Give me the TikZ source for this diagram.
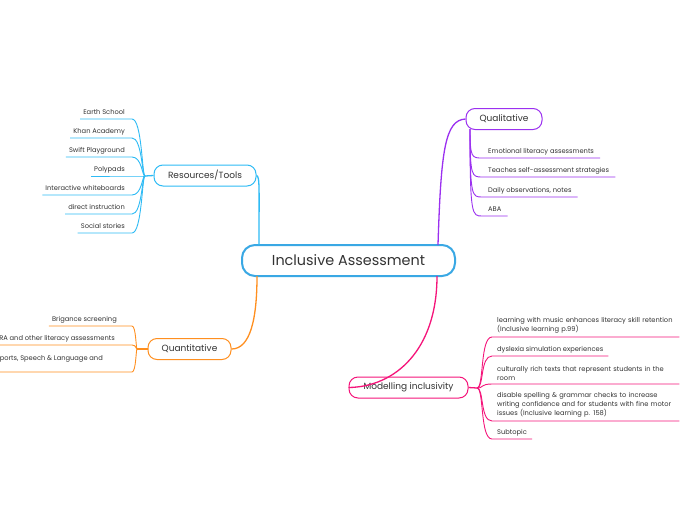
\documentclass[tikz,border=0pt]{standalone}
\usepackage{fontspec}
\setmainfont{Poppins}
\definecolor{cRes}{HTML}{2EBBF5}
\definecolor{cRoot}{HTML}{3AA8E4}
\definecolor{cQuan}{HTML}{FF8F1F}
\definecolor{cQual}{HTML}{9B30F0}
\definecolor{cMod}{HTML}{F5147A}
\definecolor{txt}{HTML}{333333}
\begin{document}
\begin{tikzpicture}[x=1pt,y=-1pt]
\tikzset{
 topic/.style={draw, fill=white, rounded corners=9pt, line width=1pt, minimum height=21pt, inner sep=0pt, font=\fontsize{9}{11}\selectfont, text=txt},
 leaf/.style={inner xsep=3pt, inner ysep=3pt, font=\fontsize{6.7}{9}\selectfont, text=txt, text height=5pt, text depth=1.5pt},
 mleaf/.style={inner xsep=5pt, inner ysep=3pt, font=\fontsize{6.7}{9}\selectfont, text=txt, align=left},
 branch/.style={line width=1.3pt},
 twig/.style={line width=0.9pt},
}
\useasboundingbox (0,0) rectangle (697,520);
\clip (0,0) rectangle (697,520);
\fill[white] (0,0) rectangle (697,520);

% root
\node[draw=cRoot, line width=2pt, rounded corners=13pt, minimum width=213pt, minimum height=31pt, inner sep=0pt, font=\fontsize{14.4}{16}\selectfont, text=txt] (root) at (348.5,260.5) {Inclusive Assessment};
\coordinate (rootRes) at (259,245);
\coordinate (rootQuan) at (257,276);
\coordinate (rootQual) at (438,245);
\coordinate (rootMod) at (437,276);

% topics
\node[topic, draw=cRes, minimum width=102pt] (res) at (205,175.5) {Resources/Tools};
\node[topic, draw=cQuan, minimum width=83pt] (quan) at (189.5,349) {Quantitative};
\node[topic, draw=cQual, minimum width=76pt] (qual) at (504,119) {Qualitative};
\node[topic, draw=cMod, minimum width=119pt] (mod) at (408.5,387.5) {Modelling inclusivity};

% main branches
\draw[branch, cRes] (res.east) .. controls (260,176) and (259,190) .. (rootRes);
\draw[branch, cQuan] (quan.east) .. controls (250,349) and (257,320) .. (rootQuan);
\draw[branch, cQual] (rootQual) .. controls (441,150) and (445,120) .. (qual.west);
\draw[branch, cMod] (rootMod) .. controls (437,350) and (395,387) .. (mod.west);

% Resources leaves
\coordinate (rj) at (145,176);
\draw[branch, cRes] (rj) -- (res.west);
\foreach \t/\y [count=\i] in {Earth School/119, Khan Academy/138, Swift Playground/157, Polypads/176, Interactive whiteboards/195, direct instruction/214, Social stories/233} {
  \node[leaf, anchor=south east] (r\i) at (128,\y) {\t};
  \draw[twig, cRes] (r\i.south west) -- (r\i.south east) -- ++(4,0) .. controls (142,\y) and (142,176) .. (rj);
}

% Quantitative leaves
\coordinate (qj) at (137,349);
\draw[branch, cQuan] (qj) -- (quan.west);
\node[leaf, anchor=south east] (q1) at (120,326) {Brigance screening};
\draw[twig, cQuan] (q1.south west) -- (q1.south east) -- ++(12,0) .. controls (136,326) and (136,349) .. (qj);
\node[leaf, anchor=south east] (q2) at (118,345) {RA and other literacy assessments};
\draw[twig, cQuan] (q2.south west) -- (q2.south east) -- ++(14,0) .. controls (136,345) and (136,349) .. (qj);
\node[leaf, anchor=base east, text height=, text depth=] (q3) at (106,360) {ports, Speech \& Language and};
\coordinate (q3s) at (-2,372);
\draw[twig, cQuan] (q3s) -- (132,372) .. controls (136,372) and (136,349) .. (qj);

% Qualitative leaves
\coordinate (lj) at (470,129);
\foreach \t/\y [count=\i] in {Emotional literacy assessments/158, Teaches self-assessment strategies/177, {Daily observations, notes}/197, ABA/216} {
  \node[leaf, anchor=south west, inner xsep=6pt] (l\i) at (482,\y) {\t};
  \draw[twig, cQual] (lj) .. controls (470,\y) and (472,\y) .. (l\i.south west) -- (l\i.south east);
}

% Modelling leaves
\coordinate (mj) at (477,388);
\draw[branch, cMod] (mod.east) -- (mj);
\node[mleaf, anchor=south west, text width=177pt] (m1) at (492,337) {learning with music enhances literacy skill retention\\(Inclusive learning p.99)};
\node[mleaf, anchor=south west] (m2) at (492,356) {dyslexia simulation experiences};
\node[mleaf, anchor=south west, text width=177pt] (m3) at (492,384) {culturally rich texts that represent students in the\\room};
\node[mleaf, anchor=south west, text width=177pt] (m4) at (492,421) {disable spelling \& grammar checks to increase\\writing confidence and for students with fine motor\\issues (Inclusive learning p. 158)};
\node[mleaf, anchor=south west] (m5) at (492,439) {Subtopic};
\foreach \i/\y in {1/337, 2/356, 3/384, 4/421, 5/439} {
  \draw[twig, cMod] (mj) .. controls (484,388) and (480,\y) .. (m\i.south west) -- (m\i.south east);
}
\end{tikzpicture}
\end{document}
